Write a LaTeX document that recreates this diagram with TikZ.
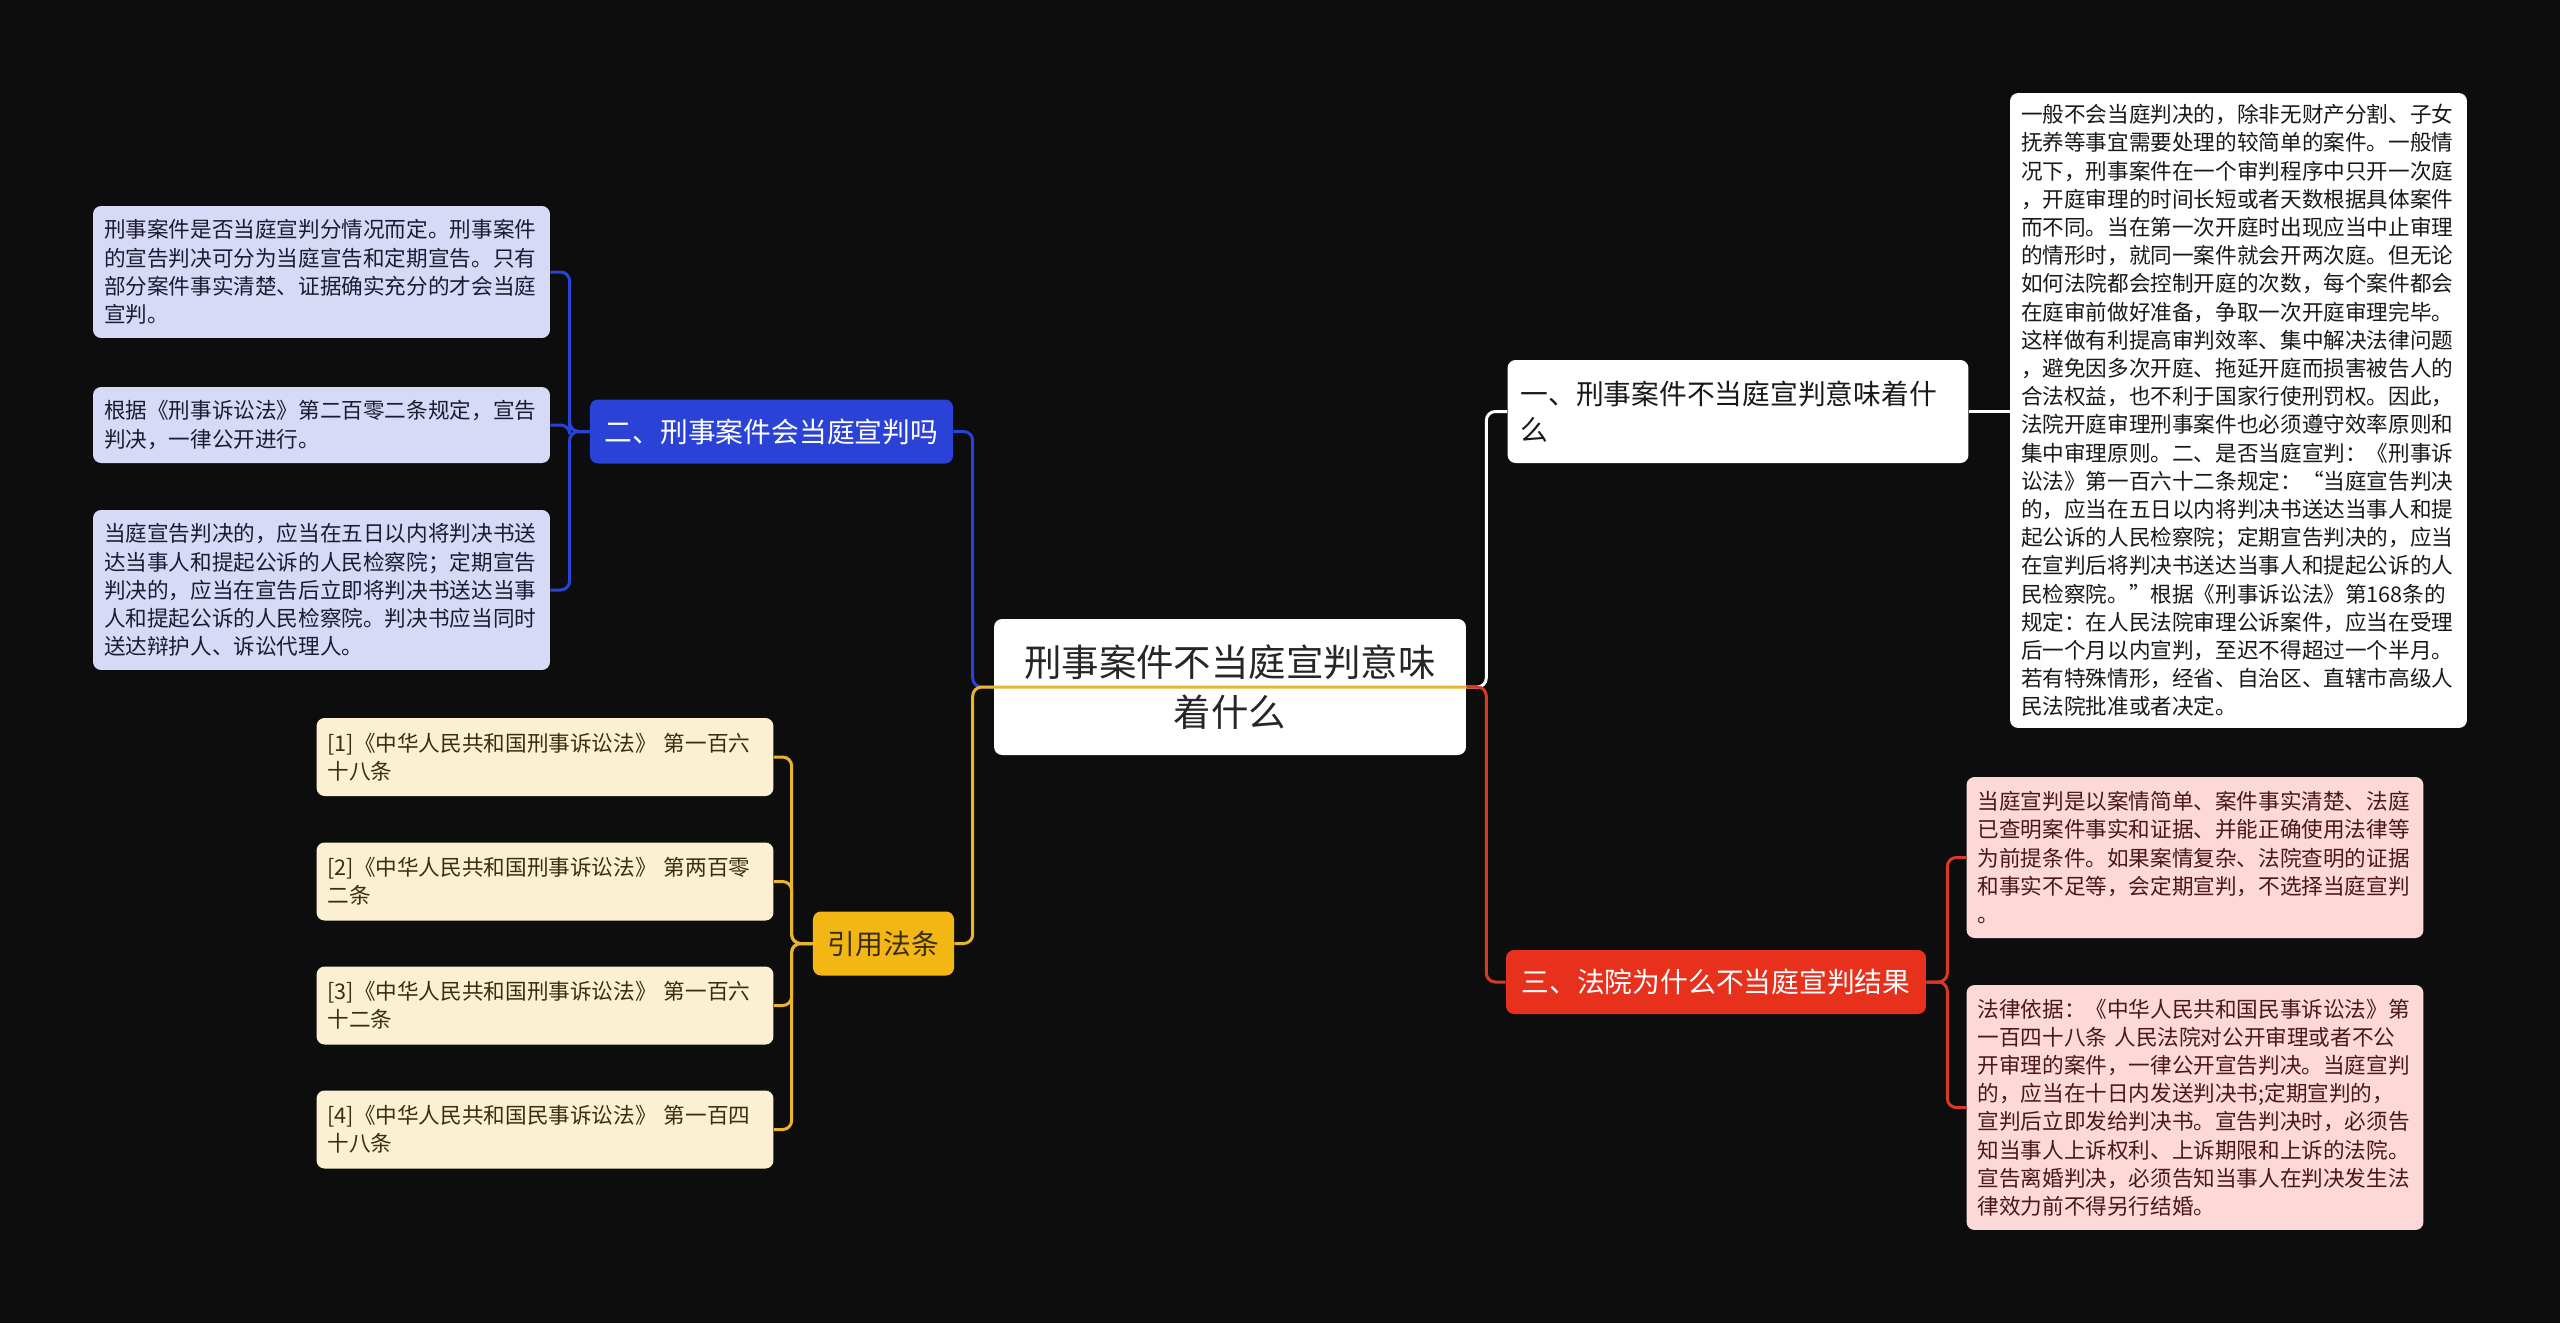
\documentclass[tikz,border=0pt]{standalone}
\usepackage{fontspec}
\setmainfont{Noto Sans CJK SC}
\usetikzlibrary{calc}
\definecolor{bgdark}{HTML}{0D0D0D}
\definecolor{bluebr}{HTML}{2B42D6}
\definecolor{bluebox}{HTML}{D7DAF7}
\definecolor{bluetxt}{HTML}{1C1C30}
\definecolor{redbr}{HTML}{E8311D}
\definecolor{redln}{HTML}{D93A28}
\definecolor{pinkbox}{HTML}{FCD9D6}
\definecolor{pinktxt}{HTML}{4A1818}
\definecolor{yelbr}{HTML}{F2B714}
\definecolor{yelln}{HTML}{E8B52C}
\definecolor{creambox}{HTML}{FCF0D3}
\definecolor{creamtxt}{HTML}{3A2E12}

\begin{document}
\begin{tikzpicture}[
  x=0.02cm,y=-0.02cm,
  rootnode/.style={rounded corners=0.16cm, fill=white, text=black!85, font=\fontsize{21.3}{28.3}\selectfont, align=center, minimum width=9.44cm, minimum height=2.72cm, inner sep=0pt},
  topic/.style={rounded corners=0.16cm, font=\fontsize{15.8}{20.8}\selectfont, inner xsep=0.3cm, inner ysep=0pt, minimum height=1.28cm},
  leaf/.style={rounded corners=0.16cm, font=\fontsize{12.3}{16.05}\selectfont, text width=8.7cm, inner xsep=0.22cm, inner ysep=0pt, align=left},
  bleaf/.style={leaf, fill=bluebox, text=bluetxt},
  yleaf/.style={leaf, fill=creambox, text=creamtxt, minimum height=1.56cm},
  pleaf/.style={leaf, fill=pinkbox, text=pinktxt},
  link/.style={line width=1.7pt, rounded corners=0.18cm},
]
\fill[bgdark] (0,0) rectangle (2560,1323);

% centre
\node[rootnode] (root) at (1230,687) {刑事案件不当庭宣判意味\\着什么};

% right side: topic one
\node[topic, fill=white, text=black!90, text width=8.7cm, inner xsep=0.26cm, align=left, minimum height=2.06cm] (tone) at (1738,411.5) {一、刑事案件不当庭宣判意味着什\\么};
\node[leaf, fill=white, text=black!90, minimum height=12.7cm] (tonetxt) at (2238.5,410.5) {一般不会当庭判决的，除非无财产分割、子女\\
抚养等事宜需要处理的较简单的案件。一般情\\
况下，刑事案件在一个审判程序中只开一次庭\\
，开庭审理的时间长短或者天数根据具体案件\\
而不同。当在第一次开庭时出现应当中止审理\\
的情形时，就同一案件就会开两次庭。但无论\\
如何法院都会控制开庭的次数，每个案件都会\\
在庭审前做好准备，争取一次开庭审理完毕。\\
这样做有利提高审判效率、集中解决法律问题\\
，避免因多次开庭、拖延开庭而损害被告人的\\
合法权益，也不利于国家行使刑罚权。因此，\\
法院开庭审理刑事案件也必须遵守效率原则和\\
集中审理原则。二、是否当庭宣判：《刑事诉\\
讼法》第一百六十二条规定：“当庭宣告判决\\
的，应当在五日以内将判决书送达当事人和提\\
起公诉的人民检察院；定期宣告判决的，应当\\
在宣判后将判决书送达当事人和提起公诉的人\\
民检察院。”根据《刑事诉讼法》第168条的\\
规定：在人民法院审理公诉案件，应当在受理\\
后一个月以内宣判，至迟不得超过一个半月。\\
若有特殊情形，经省、自治区、直辖市高级人\\
民法院批准或者决定。};

% right side: topic three
\node[topic, fill=redbr, text=white, minimum width=8.4cm] (tthree) at (1716,982) {三、法院为什么不当庭宣判结果};
\node[pleaf, minimum height=3.22cm] (pone) at (2195,857.5) {当庭宣判是以案情简单、案件事实清楚、法庭\\
已查明案件事实和证据、并能正确使用法律等\\
为前提条件。如果案情复杂、法院查明的证据\\
和事实不足等，会定期宣判，不选择当庭宣判\\
。};
\node[pleaf, minimum height=4.9cm] (ptwo) at (2195,1107.5) {法律依据：《中华人民共和国民事诉讼法》第\\
一百四十八条 人民法院对公开审理或者不公\\
开审理的案件，一律公开宣告判决。当庭宣判\\
的，应当在十日内发送判决书;定期宣判的，\\
宣判后立即发给判决书。宣告判决时，必须告\\
知当事人上诉权利、上诉期限和上诉的法院。\\
宣告离婚判决，必须告知当事人在判决发生法\\
律效力前不得另行结婚。};

% left side: topic two
\node[topic, fill=bluebr, text=white, minimum width=7.26cm] (ttwo) at (771.5,431.5) {二、刑事案件会当庭宣判吗};
\node[bleaf, minimum height=2.64cm] (bone) at (321.5,272) {刑事案件是否当庭宣判分情况而定。刑事案件\\
的宣告判决可分为当庭宣告和定期宣告。只有\\
部分案件事实清楚、证据确实充分的才会当庭\\
宣判。};
\node[bleaf, minimum height=1.52cm] (btwo) at (321.5,425) {根据《刑事诉讼法》第二百零二条规定，宣告\\
判决，一律公开进行。};
\node[bleaf, minimum height=3.2cm] (bthree) at (321.5,590) {当庭宣告判决的，应当在五日以内将判决书送\\
达当事人和提起公诉的人民检察院；定期宣告\\
判决的，应当在宣告后立即将判决书送达当事\\
人和提起公诉的人民检察院。判决书应当同时\\
送达辩护人、诉讼代理人。};

% left side: cited laws
\node[topic, fill=yelbr, text=creamtxt, minimum width=2.78cm] (law) at (883.5,943.5) {引用法条};
\node[yleaf] (lone) at (545,757) {[1]《中华人民共和国刑事诉讼法》 第一百六\\十八条};
\node[yleaf] (ltwo) at (545,881.5) {[2]《中华人民共和国刑事诉讼法》 第两百零\\二条};
\node[yleaf] (lthree) at (545,1005.5) {[3]《中华人民共和国刑事诉讼法》 第一百六\\十二条};
\node[yleaf] (lfour) at (545,1129.5) {[4]《中华人民共和国民事诉讼法》 第一百四\\十八条};

% connectors
\draw[link, bluebr] (root.west) -- ++(-21,0) |- (ttwo.east);
\draw[link, white] (root.east) -- ++(20,0) |- (tone.west);
\draw[link, redln] (root.east) -- ++(20,0) |- (tthree.west);
\draw[link, yelln] (root.east) -- ($(root.west)+(-21,0)$) |- (law.east);
\draw[link, white] (tone.east) -- (tone.east -| tonetxt.west);
\foreach \n in {pone,ptwo}
  \draw[link, redln] (tthree.east) -- ++(21,0) |- (\n.west);
\foreach \n in {bone,btwo,bthree}
  \draw[link, bluebr] (ttwo.west) -- ++(-20,0) |- (\n.east);
\foreach \n in {lone,ltwo,lthree,lfour}
  \draw[link, yelln] (law.west) -- ++(-21,0) |- (\n.east);
\end{tikzpicture}
\end{document}
